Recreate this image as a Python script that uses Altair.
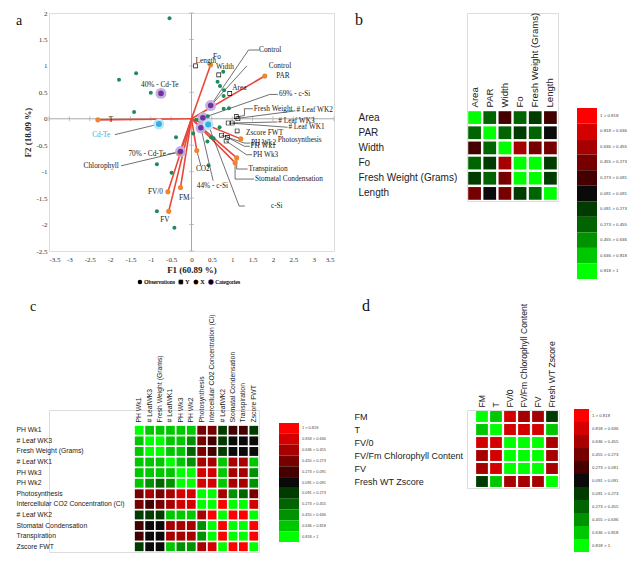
import altair as alt
import pandas as pd

SERIF = "Liberation Serif"
SANS = "Liberation Sans"

# ---------------- panel a : biplot ----------------
obs_x = [-0.54, -1.78, -1.36, -1.00, -1.41, -0.38, -0.85, -0.49, -0.85, -0.42, 0.04, 0.12,
         0.78, 0.64, 0.70, 0.80, 0.79, 0.79, 0.92, 0.40, 0.69, 0.48, 0.54, 0.39, 0.42]
obs_y = [1.90, 0.74, 0.86, 0.49, 0.13, -0.35, -0.86, -1.02, -1.75, -2.06, -0.28, -0.02,
         0.89, 0.70, 0.62, 0.54, 0.43, 0.19, 0.20, 0.05, -0.16, -0.35, -0.37, -0.43, -0.88]

yvar_names = ["Length", "Width", "Area", "Fresh Weight", "# Leaf WK2", "# Leaf WK3", "# Leaf WK1",
              "Zscore FWT", "PH Wk2", "PH Wk1", "PH Wk3"]
yvar_x = [0.10, 0.67, 0.94, 1.10, 1.14, 0.90, 1.00, 1.12, 0.74, 0.88, 0.85]
yvar_y = [1.00, 0.83, 0.48, 0.04, 0.00, -0.08, -0.08, -0.23, -0.31, -0.35, -0.42]

xvar_names = ["T", "Fo", "PAR", "Photosynthesis", "Transpiration", "Stomatal Condensation",
              "CO2", "FM", "FV/0", "FV", "Chlorophyll"]
xvar_x = [-2.30, 0.47, 1.80, 1.21, 1.11, 1.07, 0.13, -0.27, -0.58, -0.56, -0.30]
xvar_y = [-0.02, 1.02, 0.81, -0.38, -0.74, -0.83, -0.60, -1.30, -1.38, -1.75, -0.65]

cat_names = ["40% - Cd-Te", "Control", "69% - c-Si", "44% - c-Si", "70% - Cd-Te"]
cat_x = [-0.75, 0.47, 0.28, 0.23, -0.27]
cat_y = [0.48, 0.25, 0.02, -0.17, -0.62]

cen_names = ["Cd-Te", "c-Si"]
cen_x = [-0.80, 0.41]
cen_y = [-0.10, -0.11]

lab_text = ["Control", "Control", "PAR", "69% - c-Si", "Fresh Weight", "# Leaf WK2", "# Leaf WK3",
            "# Leaf WK1", "Zscore FWT", "Photosynthesis", "PH Wk2", "PH Wk1", "PH Wk3",
            "Transpiration", "Stomatal Condensation", "c-Si", "44% - c-Si", "CO2", "FM", "FV/0",
            "FV", "70% - Cd-Te", "Chlorophyll", "40% - Cd-Te", "T", "Length", "Fo", "Width", "Area"]
lab_x = [1.66, 1.90, 2.08, 2.15, 1.53, 2.58, 2.13, 2.38, 1.34, 2.12, 1.46, 1.45, 1.51, 1.40, 1.56,
         1.95, 0.13, 0.11, -0.31, -1.07, -0.77, -1.55, -2.65, -1.24, -2.03, 0.10, 0.53, 0.60, 1.00]
lab_y = [1.30, 1.00, 0.81, 0.46, 0.19, 0.17, -0.05, -0.15, -0.27, -0.41, -0.46, -0.52, -0.68,
         -0.95, -1.14, -1.65, -1.28, -0.95, -1.50, -1.38, -1.92, -0.67, -0.89, 0.63, -0.02,
         1.09, 1.16, 0.97, 0.59]
cyan_lab_text = ["Cd-Te"]
cyan_lab_x = [-2.44]
cyan_lab_y = [-0.30]

leaders = [
    [(1.66, 1.30), (1.40, 1.30), (0.47, 0.25)],
    [(1.36, 1.00), (0.50, 0.27)],
    [(2.12, 0.46), (1.92, 0.46), (0.29, 0.02)],
    [(1.51, 0.19), (1.30, 0.19), (1.30, 0.06), (1.11, 0.04)],
    [(2.55, 0.15), (1.15, 0.01)],
    [(2.11, -0.06), (1.00, -0.08)],
    [(2.36, -0.16), (0.92, -0.08)],
    [(1.44, -0.46), (1.30, -0.46), (0.74, -0.31)],
    [(1.43, -0.52), (1.30, -0.52), (0.88, -0.35)],
    [(1.49, -0.68), (1.35, -0.68), (0.85, -0.42)],
    [(1.38, -0.95), (1.11, -0.95), (1.11, -0.75)],
    [(1.54, -1.14), (1.07, -1.14), (1.07, -0.84)],
    [(1.31, -1.65), (1.17, -1.65), (0.41, -0.11)],
    [(0.53, -1.17), (0.23, -0.17)],
    [(0.23, -0.89), (0.13, -0.60)],
    [(-0.59, -0.67), (-0.27, -0.62)],
    [(-1.73, -0.89), (-0.31, -0.63)],
    [(-1.88, -0.30), (-0.80, -0.10)],
]

tick_x = [-3.5, -3, -2.5, -2, -1.5, -1, -0.5, 0, 0.5, 1, 1.5, 2, 2.5, 3, 3.5]
tick_y = [-2.5, -2, -1.5, -1, -0.5, 0, 0.5, 1, 1.5, 2]

series_dom = ["Observations", "Y", "X", "Categories", "Centroids"]
series_col = ["#1e8a5e", "#000000", "#f0852d", "#7030a0", "#35aee2"]
OPEN_SQ = "M-1,-1H1V1H-1Z M-0.72,-0.72V0.72H0.72V-0.72Z"

# ---------------- heatmaps ----------------
thresholds = [-0.818, -0.636, -0.455, -0.273, -0.091, 0.091, 0.273, 0.455, 0.636, 0.818]
bin_colors = ["#ff0000", "#d40000", "#a60000", "#760000", "#440000", "#0a0a0a",
              "#003c00", "#006400", "#009200", "#00c800", "#00ff00"]
leg_labels = ["1 > 0.818", "0.818 > 0.636", "0.636 > 0.455", "0.455 > 0.273", "0.273 > 0.091",
              "0.091 > 0.091", "0.091 > 0.273", "0.273 > 0.455", "0.455 > 0.636",
              "0.636 > 0.818", "0.818 > 1"]
leg_mid = [-0.91, -0.73, -0.55, -0.36, -0.18, 0.0, 0.18, 0.36, 0.55, 0.73, 0.91]

b_rows = ["Area", "PAR", "Width", "Fo", "Fresh Weight (Grams)", "Length"]
b_cols = b_rows
b_mat = [
    [1.00, 0.36, -0.25, 0.36, 0.25, -0.25],
    [0.36, 1.00, 0.36, 0.20, 0.36, 0.00],
    [-0.25, 0.36, 1.00, -0.55, -0.30, -0.30],
    [0.36, 0.20, -0.55, 1.00, 0.90, 0.25],
    [0.25, 0.36, -0.30, 0.90, 1.00, 0.25],
    [-0.30, 0.00, -0.30, 0.25, 0.30, 1.00],
]

c_rows = ["PH Wk1", "# Leaf WK3", "Fresh Weight (Grams)", "# Leaf WK1", "PH Wk3", "PH Wk2",
          "Photosynthesis", "Intercellular CO2 Concentration (Ci)", "# Leaf WK2",
          "Stomatal Condensation", "Transpiration", "Zscore FWT"]
c_cols = ["PH Wk1", "# LeafWK3", "Fresh Weight (Grams)", "# LeafWK1", "PH Wk3", "PH Wk2",
          "Photosynthesis", "Intercellular CO2 Concentration (Ci)", "# LeafWK2",
          "Stomatal Condensation", "Transpiration", "Zscore FWT"]
c_mat = [
    [1.00, 0.73, 0.73, 0.73, 0.73, 0.73, -0.36, -0.36, 0.18, -0.20, -0.20, 0.15],
    [0.73, 1.00, 0.90, 0.73, 0.73, 0.60, -0.45, -0.20, 0.15, 0.00, 0.00, 0.00],
    [0.73, 0.90, 1.00, 0.73, 0.73, 0.36, -0.30, -0.20, 0.18, 0.00, 0.00, 0.00],
    [0.73, 0.73, 0.73, 1.00, 0.73, 0.55, -0.55, -0.55, 0.73, -0.55, -0.50, 0.73],
    [0.73, 0.73, 0.73, 0.73, 1.00, 0.90, -0.73, -0.73, 0.73, -0.55, -0.50, 0.55],
    [0.73, 0.55, 0.36, 0.55, 0.90, 1.00, -0.73, -0.73, 0.73, -0.55, -0.50, 0.55],
    [-0.36, -0.50, -0.36, -0.55, -0.73, -0.73, 1.00, 0.90, -0.50, 0.50, 0.40, -0.45],
    [-0.30, -0.20, -0.30, -0.55, -0.73, -0.73, 0.90, 1.00, -0.90, 0.90, 0.90, -0.73],
    [0.18, 0.15, 0.18, 0.73, 0.73, 0.73, -0.55, -0.90, 1.00, -0.90, -0.90, 0.90],
    [-0.20, 0.00, 0.00, -0.55, -0.55, -0.55, 0.50, 0.90, -0.90, 1.00, 0.90, -0.90],
    [-0.20, 0.00, 0.00, -0.50, -0.50, -0.50, 0.50, 0.90, -0.90, 0.90, 1.00, -0.90],
    [0.15, 0.00, 0.00, 0.73, 0.60, 0.60, -0.55, -0.73, 0.90, -0.90, -0.90, 1.00],
]

d_rows = ["FM", "T", "FV/0", "FV/Fm  Chlorophyll Content", "FV", "Fresh WT Zscore"]
d_cols = d_rows
d_mat = [
    [1.00, 0.73, -0.73, -0.55, -0.60, 0.18],
    [0.73, 1.00, -0.73, -0.73, -0.73, 0.73],
    [-0.73, -0.73, 1.00, 0.95, 0.95, -0.55],
    [-0.55, -0.73, 0.95, 1.00, 0.95, -0.55],
    [-0.55, -0.73, 0.95, 0.95, 1.00, -0.55],
    [0.18, 0.73, -0.55, -0.55, -0.55, 1.00],
]


# ---------------- build panel a ----------------
xsc = alt.Scale(domain=[-3.5, 3.5], nice=False, zero=False)
ysc = alt.Scale(domain=[-2.5, 2], nice=False, zero=False)
xaxis = alt.Axis(values=tick_x, labelExpr="'' + datum.value", domain=False, ticks=False, grid=False,
                 labelFont=SERIF, labelFontSize=7, labelColor="#333", labelPadding=4,
                 title="F1 (60.89 %)", titleFont=SERIF, titleFontSize=9, titleFontWeight="bold",
                 titleColor="#222", titlePadding=3)
yaxis = alt.Axis(values=tick_y, labelExpr="'' + datum.value", domain=False, ticks=False, grid=False,
                 labelFont=SERIF, labelFontSize=7, labelColor="#333", labelPadding=2,
                 title="F2 (18.09 %)", titleFont=SERIF, titleFontSize=9, titleFontWeight="bold",
                 titleColor="#222", titlePadding=3)


def XE(f):
    return alt.X(f, type="quantitative", scale=xsc, axis=xaxis)


def YE(f):
    return alt.Y(f, type="quantitative", scale=ysc, axis=yaxis)


axis_lines = pd.DataFrame({"x": [tick_x[0], 0], "y": [0, tick_y[0]],
                           "x2": [tick_x[-1], 0], "y2": [0, tick_y[-1]]})
rules = alt.Chart(axis_lines).mark_rule(color="#a8a8a8", strokeWidth=1).encode(
    x=XE("x"), y=YE("y"), x2="x2", y2="y2")
hticks = alt.Chart(pd.DataFrame({"x": tick_x, "y": [0] * len(tick_x)})).mark_tick(
    orient="vertical", size=5, thickness=1, color="#a8a8a8").encode(x=XE("x"), y=YE("y"))
vticks = alt.Chart(pd.DataFrame({"x": [0] * len(tick_y), "y": tick_y})).mark_tick(
    orient="horizontal", size=5, thickness=1, color="#a8a8a8").encode(x=XE("x"), y=YE("y"))

vec_df = pd.DataFrame({"x0": [0.0] * len(xvar_x), "y0": [0.0] * len(xvar_y), "x": xvar_x, "y": xvar_y})
vectors = alt.Chart(vec_df).mark_rule(color="#e8483a", strokeWidth=1.6).encode(
    x=XE("x0"), y=YE("y0"), x2="x", y2="y")

seg = []
for line in leaders:
    for a, b in zip(line[:-1], line[1:]):
        seg.append({"x": a[0], "y": a[1], "x2": b[0], "y2": b[1]})
lead = alt.Chart(pd.DataFrame(seg)).mark_rule(color="#333", strokeWidth=0.7).encode(
    x=XE("x"), y=YE("y"), x2="x2", y2="y2")

pts = []
for xx, yy in zip(obs_x, obs_y):
    pts.append({"x": xx, "y": yy, "series": "Observations"})
for xx, yy in zip(yvar_x, yvar_y):
    pts.append({"x": xx, "y": yy, "series": "Y"})
for xx, yy in zip(xvar_x, xvar_y):
    pts.append({"x": xx, "y": yy, "series": "X"})
for xx, yy in zip(cat_x, cat_y):
    pts.append({"x": xx, "y": yy, "series": "Categories"})
for xx, yy in zip(cen_x, cen_y):
    pts.append({"x": xx, "y": yy, "series": "Centroids"})
pts_df = pd.DataFrame(pts)

ring_df = pd.DataFrame({"x": cat_x + cen_x, "y": cat_y + cen_y,
                        "series": ["Categories"] * len(cat_x) + ["Centroids"] * len(cen_x)})
rings = alt.Chart(ring_df).mark_circle(opacity=1).encode(
    x=XE("x"), y=YE("y"),
    color=alt.Color("series:N", scale=alt.Scale(domain=["Categories", "Centroids"],
                                                  range=["#c3b0dd", "#bfe6f6"]), legend=None),
    size=alt.value(120))

leg = alt.Legend(title=None, orient="none", legendX=88, legendY=266, direction="horizontal",
                 values=series_dom[:4], labelFont=SERIF, labelFontSize=5.8, labelColor="#222",
                 symbolSize=20, symbolStrokeWidth=0, labelOffset=1.5, columnPadding=3)
points = alt.Chart(pts_df).mark_point(filled=True, opacity=1).encode(
    x=XE("x"), y=YE("y"),
    color=alt.Color("series:N", scale=alt.Scale(domain=series_dom, range=series_col), legend=leg),
    shape=alt.Shape("series:N", scale=alt.Scale(domain=series_dom,
                                                range=["circle", OPEN_SQ, "circle", "circle", "circle"]),
                    legend=leg),
    size=alt.Size("series:O", scale=alt.Scale(domain=series_dom, range=[16, 36, 20, 70, 65]),
                  legend=None))

labels = alt.Chart(pd.DataFrame({"t": lab_text, "x": lab_x, "y": lab_y})).mark_text(
    align="left", baseline="middle", font=SERIF, fontSize=7.3, color="#1a1a1a").encode(
    x=XE("x"), y=YE("y"), text="t:N")
cyan_labels = alt.Chart(pd.DataFrame({"t": cyan_lab_text, "x": cyan_lab_x, "y": cyan_lab_y})).mark_text(
    align="left", baseline="middle", font=SERIF, fontSize=7.3, color="#35aee2").encode(
    x=XE("x"), y=YE("y"), text="t:N")
letter_a = alt.Chart(pd.DataFrame({"t": ["a"]})).mark_text(
    align="left", baseline="alphabetic", font=SERIF, fontSize=14, color="#111", dx=-33, dy=12).encode(
    x=alt.value(0), y=alt.value(0), text="t:N")

panel_a = alt.layer(rules, hticks, vticks, vectors, lead, rings, points, labels, cyan_labels,
                    letter_a).resolve_scale(color="independent", size="independent").properties(
    width=285, height=238)


# ---------------- heatmap builder ----------------
def color_enc(field):
    return alt.Color(field, type="quantitative",
                     scale=alt.Scale(type="threshold", domain=thresholds, range=bin_colors),
                     legend=None)


def heat_panel(rows, cols, mat, w, h, xr, yr, xoff, row_fs, col_fs, row_pad,
               letter, lx, ly, lfs, lalign, gx0, gx1, gr, gfs):
    recs = []
    for i, r in enumerate(rows):
        for j, c in enumerate(cols):
            recs.append({"row": r, "col": c, "v": mat[i][j]})
    df = pd.DataFrame(recs)
    heat = alt.Chart(df).mark_rect().encode(
        x=alt.X("col:N", sort=cols,
                scale=alt.Scale(range=xr, paddingInner=0.16, paddingOuter=0.08),
                axis=alt.Axis(orient="top", offset=xoff, labelAngle=-90, domain=False, ticks=False,
                              tickSize=0, title=None, labelPadding=3, labelFont=SANS,
                              labelFontSize=col_fs, labelColor="#222", labelLimit=400,
                              labelOverlap=False)),
        y=alt.Y("row:N", sort=rows,
                scale=alt.Scale(range=yr, paddingInner=0.16, paddingOuter=0.08),
                axis=alt.Axis(orient="left", labelAlign="left", labelBaseline="middle",
                              domain=False, ticks=False, tickSize=0, title=None,
                              labelPadding=row_pad, labelFont=SANS, labelFontSize=row_fs,
                              labelColor="#222", labelLimit=400, labelOverlap=False)),
        color=color_enc("v"))
    gdf = pd.DataFrame({"bin": leg_labels, "mid": leg_mid})
    gscale = alt.Scale(range=gr, paddingInner=0, paddingOuter=0)
    grect = alt.Chart(gdf).mark_rect().encode(
        x=alt.value(gx0), x2=alt.value(gx1),
        y=alt.Y("bin:N", sort=leg_labels, scale=gscale, axis=None),
        color=color_enc("mid"))
    gtext = alt.Chart(gdf).mark_text(align="left", baseline="middle", font=SANS, fontSize=gfs,
                                     color="#444").encode(
        x=alt.value(gx1 + 3),
        y=alt.Y("bin:N", sort=leg_labels, scale=gscale, axis=None),
        text="bin:N")
    let = alt.Chart(pd.DataFrame({"t": [letter]})).mark_text(
        align=lalign, baseline="top", font=SERIF, fontSize=lfs, color="#111",
        dx=lx, dy=ly).encode(x=alt.value(0), y=alt.value(0), text="t:N")
    return alt.layer(heat, grect, gtext, let).resolve_scale(
        x="independent", y="independent").properties(width=w, height=h)


panel_b = heat_panel(b_rows, b_cols, b_mat, 91, 188, [0, 91], [97, 188], -97, 10, 9.6, 109,
                     "b", -104, -1, 16, "right", 110, 130, [95, 266], 4.4)
panel_c = heat_panel(c_rows, c_cols, c_mat, 210, 142, [85, 210], [15, 142], -15, 6.8, 6.8, 33,
                     "c", -19, -110, 14, "left", 230, 250, [13, 132], 3.9)
panel_d = heat_panel(d_rows, d_cols, d_mat, 92, 78, [8, 92], [0, 78], 0, 9, 8.6, 113,
                     "d", -105, -112, 16, "left", 107, 122, [-1, 142], 4.3)

chart = alt.concat(panel_a, panel_b, panel_c, panel_d, columns=2, bounds="flush",
                   spacing={"row": 159, "column": 133}).resolve_scale(
    color="independent").properties(
    padding={"left": 7, "top": 0, "right": 0, "bottom": 0}
).configure_view(stroke=None).configure(background="white")

chart.save("out.html", embed_options={"renderer": "svg", "actions": False})
